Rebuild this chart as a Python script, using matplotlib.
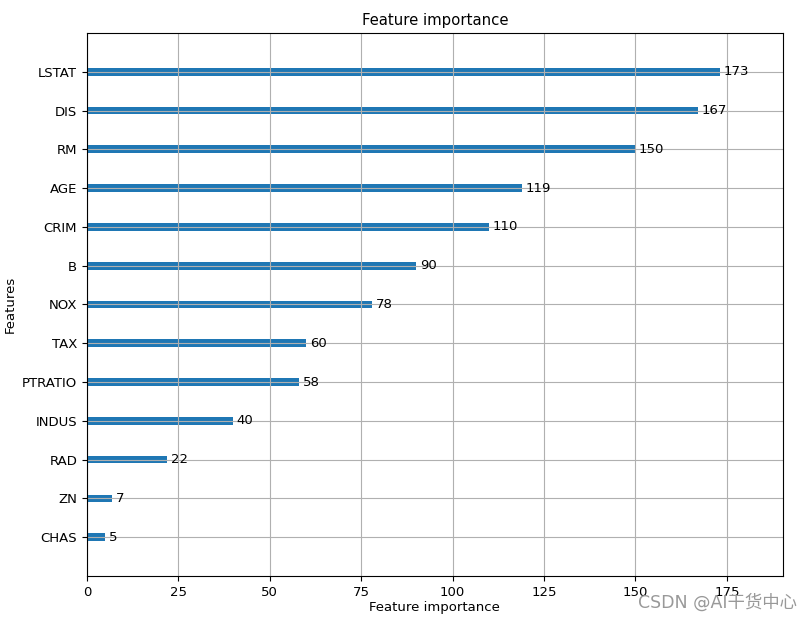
import matplotlib.pyplot as plt

plt.rcParams['font.family'] = ['DejaVu Sans', 'Noto Sans CJK SC']
plt.rcParams['font.size'] = 9.5

# feature importances (split counts), lowest first as drawn bottom-up
features = ["CHAS", "ZN", "RAD", "INDUS", "PTRATIO", "TAX", "NOX",
            "B", "CRIM", "AGE", "RM", "DIS", "LSTAT"]
importance = [5, 7, 22, 40, 58, 60, 78, 90, 110, 119, 150, 167, 173]

fig = plt.figure(figsize=(8.12, 6.22), dpi=100)
ax = fig.add_axes([0.107, 0.074, 0.857, 0.873])

ylocs = list(range(len(features)))
ax.barh(ylocs, importance, align="center", height=0.2)
for x, y in zip(importance, ylocs):
    ax.text(x + 1, y, str(x), va="center")

ax.set_yticks(ylocs)
ax.set_yticklabels(features)
ax.set_xlim(0, max(importance) * 1.1)
ax.set_ylim(-1, len(features))
ax.grid(True)

ax.set_title("Feature importance", fontsize=10.75)
ax.set_xlabel("Feature importance", labelpad=2)
ax.set_ylabel("Features")

# watermark, it sits over the last tick labels like in the source image
fig.text(0.982, 0.031, "CSDN @AI干货中心", ha="right", va="center",
         fontsize=12.5, color="#999999",
         family=["DejaVu Sans", "Noto Sans CJK SC"])

fig.savefig("out.png", dpi=100)
plt.close(fig)
